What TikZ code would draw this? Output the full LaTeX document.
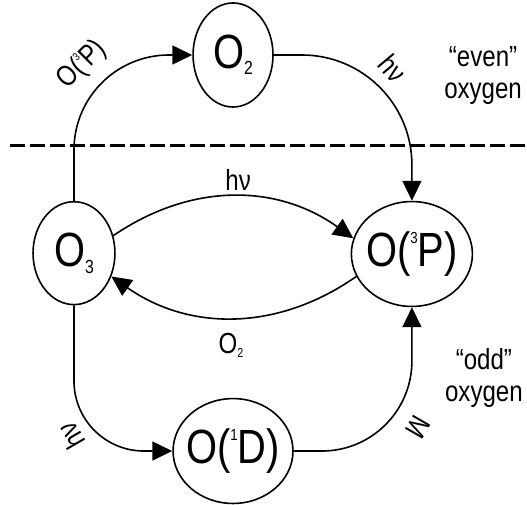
\documentclass[tikz,border=0pt]{standalone}
\usepackage{fontspec}
\setmainfont{Liberation Sans}[FakeStretch=0.83]
\usetikzlibrary{arrows.meta,shapes.geometric}
\newcommand{\idx}[3]{\raisebox{#1}{\fontsize{#2}{#2}\selectfont #3}}

\begin{document}
\begin{tikzpicture}[
    species/.style={ellipse, draw, line width=1.6bp, inner xsep=-9bp, inner ysep=0pt, font=\fontsize{48bp}{50bp}\selectfont},
    lbl/.style={inner sep=0pt, font=\fontsize{29bp}{32bp}\selectfont},
    arrow/.style={-{Triangle[length=20bp, width=19bp]}, line width=1.6bp}
]
    \useasboundingbox (0, 0) rectangle (18.59, 17.78);

    % Separator between even and odd oxygen
    \coordinate (sepL) at (0.35, 12.63);
    \coordinate (sepR) at (18.59, 12.63);
    \draw[line width=3bp, dash pattern=on 15bp off 5bp] (sepL) -- (sepR);

    % Species
    \node[species, minimum width=2.82cm, minimum height=3.67cm] (o2) at (8.22, 15.84) {O\idx{-6bp}{19bp}{2}};
    \node[species, minimum width=2.89cm, minimum height=3.63cm] (o3) at (2.61, 8.85) {O\idx{-7bp}{19bp}{3}};
    \node[species, minimum width=4.27cm, minimum height=3.70cm] (o3p) at (14.53, 8.82) {O(\idx{23bp}{16bp}{3}P)};
    \node[species, minimum width=4.23cm, minimum height=3.70cm] (o1d) at (8.22, 1.87) {O(\idx{23bp}{16bp}{1}D)};

    % Labels
    \node[lbl, rotate=45] (l3p) at (2.90, 15.50) {O(\idx{14bp}{11bp}{3}P)};
    \node[lbl, rotate=-50] (lhvtop) at (13.86, 15.38) {hν};
    \node[lbl] (lhvmid) at (8.40, 11.43) {hν};
    \node[lbl] (lo2) at (8.15, 5.61) {O\idx{-4bp}{13bp}{2}};
    \node[lbl, rotate=120] (lhvlow) at (2.50, 2.40) {hν};
    \node[lbl, rotate=-120] (lm) at (14.75, 2.72) {M};
    \node[lbl, align=center] (even) at (17.04, 15.13) {``even''\\oxygen};
    \node[lbl, align=center] (odd) at (17.07, 4.45) {``odd''\\oxygen};

    % Arrows
    \draw[arrow, rounded corners=95bp] (o3.north) |- (o2.west);
    \draw[arrow, rounded corners=110bp] (o2.east) -| (o3p.north);
    \draw[arrow] (o3.24) to[bend left=35] (o3p.165);
    \draw[arrow] (o3p.202) to[bend left=35] (o3.328);
    \draw[arrow, rounded corners=70bp] (o3.south) |- (o1d.west);
    \draw[arrow, rounded corners=90bp] (o1d.east) -| (o3p.south);
\end{tikzpicture}
\end{document}
